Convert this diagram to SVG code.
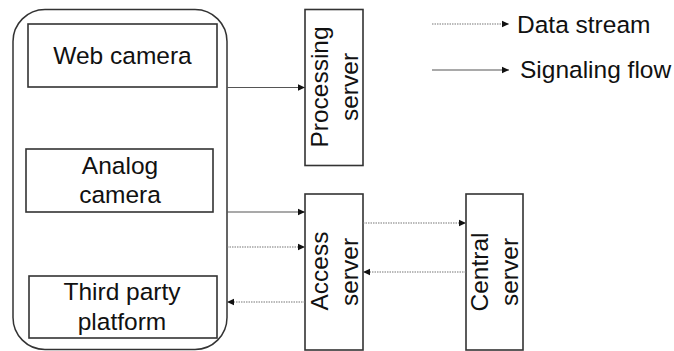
<svg xmlns="http://www.w3.org/2000/svg" width="674" height="351" viewBox="0 0 674 351">
<defs>
<style>
.box{fill:#fff;stroke:#333;stroke-width:1.6}
.t{font-family:"Liberation Sans",Arial,sans-serif;font-size:24.5px;fill:#111;text-anchor:middle}
.tl{font-family:"Liberation Sans",Arial,sans-serif;font-size:24.5px;fill:#111}
.sig{stroke:#555;stroke-width:1.2;fill:none}
.dat{stroke:#777;stroke-width:1.2;stroke-dasharray:1.5 1;fill:none}
</style>
<marker id="ah" markerWidth="8" markerHeight="8" refX="7" refY="4" orient="auto" markerUnits="userSpaceOnUse">
<path d="M0,0.8 L7,4 L0,7.2 Z" fill="#111"/>
</marker>
</defs>
<rect x="0" y="0" width="674" height="351" fill="#fff"/>
<g id="devices">
<rect x="13" y="9.5" width="214" height="340" rx="32" ry="32" fill="none" stroke="#333" stroke-width="1.5"/>
</g>
<g id="web-camera">
<rect class="box" x="28" y="24" width="189" height="63"/>
<text class="t" x="122.5" y="64">Web camera</text>
</g>
<g id="analog-camera">
<rect class="box" x="26" y="149" width="187" height="63"/>
<text class="t" x="120" y="174">Analog</text>
<text class="t" x="120" y="203">camera</text>
</g>
<g id="third-party">
<rect class="box" x="29" y="276" width="188" height="62"/>
<text class="t" x="122" y="300">Third party</text>
<text class="t" x="122" y="330">platform</text>
</g>
<g id="processing-server">
<rect class="box" x="305" y="9.5" width="58" height="156"/>
<text class="t" transform="translate(328,87) rotate(-90)">Processing</text>
<text class="t" transform="translate(358,87) rotate(-90)">server</text>
</g>
<g id="access-server">
<rect class="box" x="305" y="194" width="58" height="156"/>
<text class="t" transform="translate(328,271) rotate(-90)">Access</text>
<text class="t" transform="translate(358,272) rotate(-90)">server</text>
</g>
<g id="central-server">
<rect class="box" x="466" y="194" width="57" height="156"/>
<text class="t" transform="translate(488,272) rotate(-90)">Central</text>
<text class="t" transform="translate(518,272) rotate(-90)">server</text>
</g>
<g id="legend">
<line class="dat" x1="432" y1="24" x2="509" y2="24" marker-end="url(#ah)"/>
<text class="tl" x="517" y="33">Data stream</text>
<line class="sig" x1="432" y1="70" x2="509" y2="70" marker-end="url(#ah)"/>
<text class="tl" x="520" y="78">Signaling flow</text>
</g>
<g id="connectors">
<line class="sig" x1="227" y1="87.5" x2="305" y2="87.5" marker-end="url(#ah)"/>
<line class="sig" x1="227" y1="212" x2="305" y2="212" marker-end="url(#ah)"/>
<line class="dat" x1="227" y1="247" x2="305" y2="247" marker-end="url(#ah)"/>
<line class="dat" x1="305" y1="302" x2="227" y2="302" marker-end="url(#ah)"/>
<line class="dat" x1="363" y1="223" x2="466" y2="223" marker-end="url(#ah)"/>
<line class="dat" x1="466" y1="272" x2="363" y2="272" marker-end="url(#ah)"/>
</g>
</svg>
